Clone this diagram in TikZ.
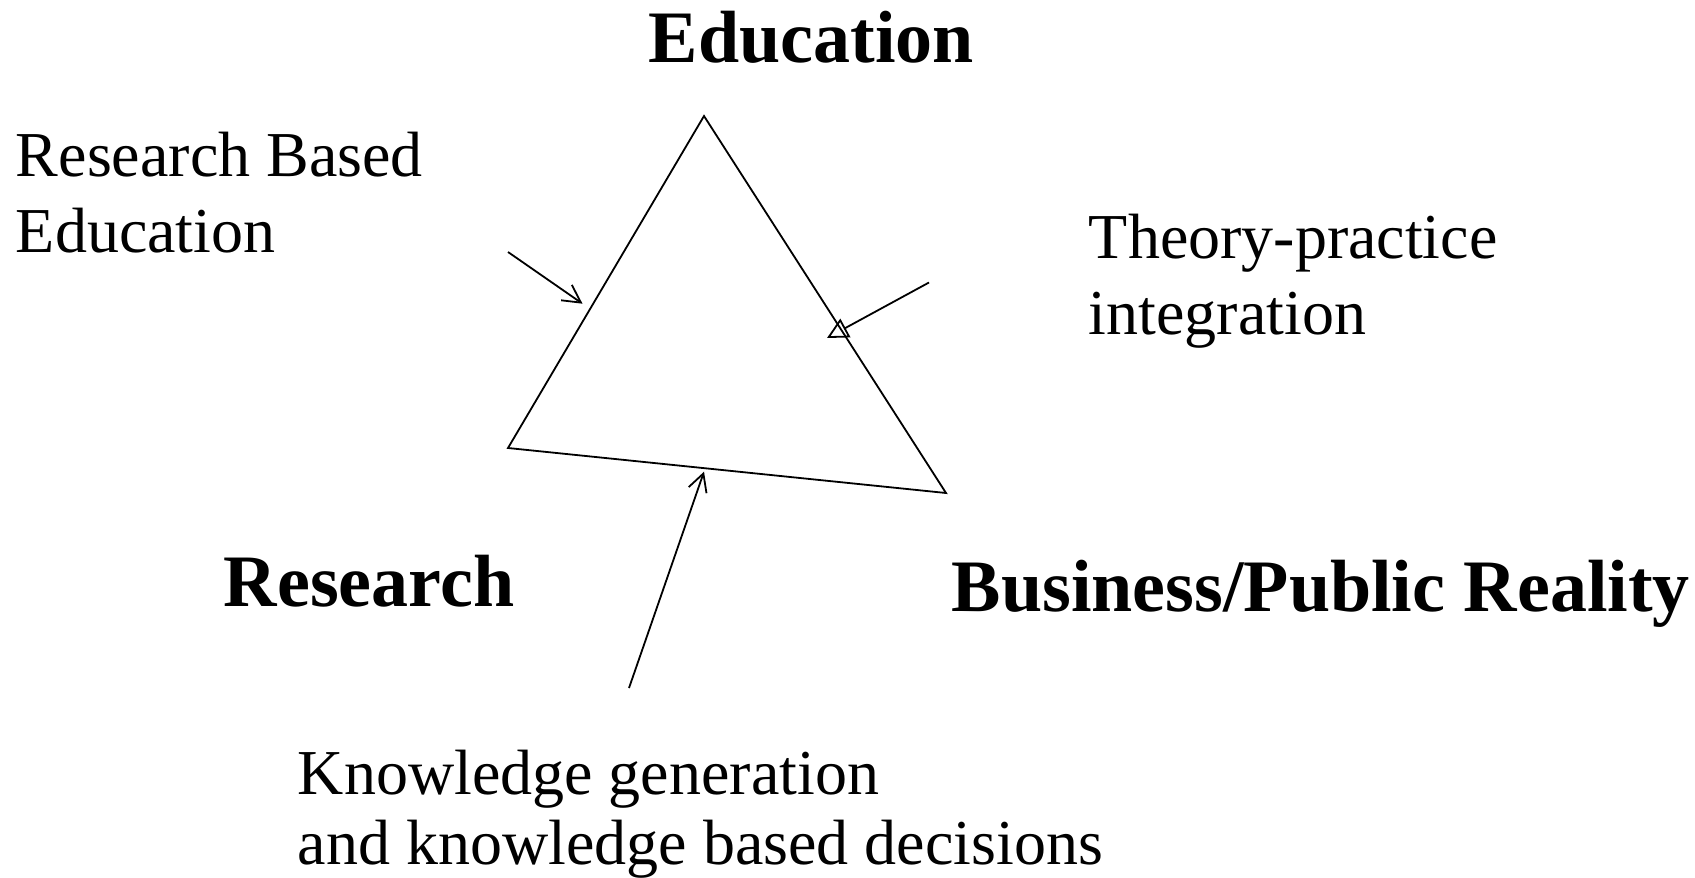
\documentclass[tikz,border=0pt]{standalone}
\usepackage{fontspec}
\setmainfont{Liberation Serif}
\usetikzlibrary{arrows.meta}

\begin{document}
\begin{tikzpicture}[x=0.5pt,y=-0.5pt,line width=0.9pt,
  every node/.append style={inner sep=0pt,anchor=base west}]
  \tikzstyle{corner} = [font=\fontsize{37}{44}\selectfont\bfseries]
  \tikzstyle{remark} = [font=\fontsize{32}{38}\selectfont,align=left]
  \tikzstyle{barb} = [-{Straight Barb[length=8.8pt,width=9.4pt]}]
  \tikzstyle{hollow} = [-{Triangle[open,length=10.5pt,width=10.5pt]}]
  \useasboundingbox (0,0) rectangle (1695,877);
  % triangle corners
  \coordinate (top) at (704,116);
  \coordinate (left) at (508,448);
  \coordinate (right) at (946,493);
  \draw (top) -- (left) -- (right) -- cycle;
  % corner labels
  \node (educ) [corner] at (648,63) {Education};
  \node (res) [corner] at (223,606) {Research};
  \node (biz) [corner] at (951,611) {Business/Public Reality};
  % side remarks (base = last line)
  \node (rbe) [remark] at (15,252) {Research Based\\Education};
  \node (tpi) [remark] at (1088,334) {Theory-practice\\integration};
  \node (kg) [remark] at (297,864) {Knowledge generation\\[-3pt]and knowledge based decisions};
  % arrows onto the sides
  \coordinate (rbe_from) at (508,252);
  \coordinate (rbe_to) at (582.5,303.7);
  \coordinate (tpi_from) at (929,282.5);
  \coordinate (tpi_to) at (827,338);
  \coordinate (kg_from) at (629,688);
  \coordinate (kg_to) at (704,471.7);
  \draw [barb] (rbe_from) -- (rbe_to);
  \draw [hollow] (tpi_from) -- (tpi_to);
  \draw [barb] (kg_from) -- (kg_to);
\end{tikzpicture}
\end{document}
